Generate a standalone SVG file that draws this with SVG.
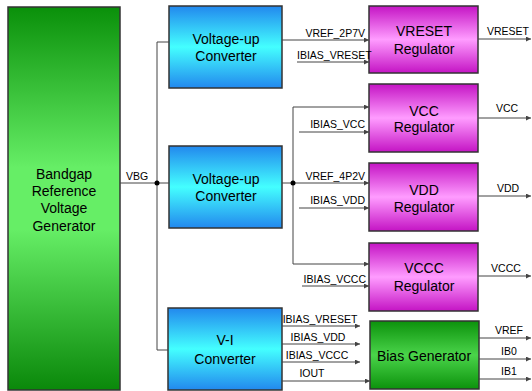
<svg xmlns="http://www.w3.org/2000/svg" width="532" height="391" viewBox="0 0 532 391">
<defs>
<linearGradient id="gBand" x1="0" y1="0" x2="0" y2="1">
<stop offset="0" stop-color="#0a900a"/><stop offset="0.42" stop-color="#66ee66"/><stop offset="0.58" stop-color="#66ee66"/><stop offset="1" stop-color="#0a880a"/>
</linearGradient>
<linearGradient id="gConv" x1="0" y1="0" x2="0" y2="1">
<stop offset="0" stop-color="#2288ee"/><stop offset="0.5" stop-color="#44ffff"/><stop offset="1" stop-color="#2288ee"/>
</linearGradient>
<linearGradient id="gReg" x1="0" y1="0" x2="0" y2="1">
<stop offset="0" stop-color="#c414c4"/><stop offset="0.5" stop-color="#ff9cff"/><stop offset="1" stop-color="#c414c4"/>
</linearGradient>
<linearGradient id="gBias" x1="0" y1="0" x2="0" y2="1">
<stop offset="0" stop-color="#0c920c"/><stop offset="0.5" stop-color="#4ad44a"/><stop offset="1" stop-color="#0c920c"/>
</linearGradient>
<marker id="arr" viewBox="0 0 6 6" refX="6" refY="3" markerWidth="5" markerHeight="5" markerUnits="userSpaceOnUse" orient="auto">
<path d="M0,0 L6,3 L0,6 z" fill="#444"/>
</marker>
</defs>
<style>
.box{stroke:#333;stroke-width:1.5}
.t{font-family:"Liberation Sans",Arial,sans-serif;font-size:14px;fill:#000;text-anchor:middle}
.l{font-family:"Liberation Sans",Arial,sans-serif;font-size:10.5px;fill:#000}
.w{fill:none;stroke:#444;stroke-width:1}
.a{marker-end:url(#arr)}
</style>
<g id="bandgap">
<rect class="box" x="8" y="7" width="112" height="383" fill="url(#gBand)"/>
<text class="t" x="64" y="179">Bandgap</text>
<text class="t" x="64" y="196">Reference</text>
<text class="t" x="64" y="213">Voltage</text>
<text class="t" x="64" y="231">Generator</text>
</g>
<g id="conv1">
<rect class="box" x="169" y="6" width="113" height="82" fill="url(#gConv)"/>
<text class="t" x="226" y="44">Voltage-up</text>
<text class="t" x="226" y="61">Converter</text>
</g>
<g id="conv2">
<rect class="box" x="169" y="146" width="113" height="82" fill="url(#gConv)"/>
<text class="t" x="226" y="184">Voltage-up</text>
<text class="t" x="226" y="201">Converter</text>
</g>
<g id="vi">
<rect class="box" x="168" y="308" width="114" height="82" fill="url(#gConv)"/>
<text class="t" x="225" y="345">V-I</text>
<text class="t" x="225" y="364">Converter</text>
</g>
<g id="vreset">
<rect class="box" x="369" y="6" width="109" height="67" fill="url(#gReg)"/>
<text class="t" x="424" y="36">VRESET</text>
<text class="t" x="424" y="54">Regulator</text>
</g>
<g id="vcc">
<rect class="box" x="369" y="84" width="109" height="68" fill="url(#gReg)"/>
<text class="t" x="424" y="116">VCC</text>
<text class="t" x="424" y="132">Regulator</text>
</g>
<g id="vdd">
<rect class="box" x="369" y="163" width="109" height="68" fill="url(#gReg)"/>
<text class="t" x="424" y="195">VDD</text>
<text class="t" x="424" y="212">Regulator</text>
</g>
<g id="vccc">
<rect class="box" x="369" y="243" width="109" height="68" fill="url(#gReg)"/>
<text class="t" x="424" y="273">VCCC</text>
<text class="t" x="424" y="291">Regulator</text>
</g>
<g id="biasgen">
<rect class="box" x="370" y="321" width="109" height="68" fill="url(#gBias)"/>
<text class="t" x="424" y="361">Bias Generator</text>
</g>
<g id="connectors">
<path class="w" d="M120,183 H169"/>
<path class="w" d="M169,42 H157 V350 H168"/>
<circle cx="157" cy="183" r="2.5" fill="#000"/>
<path class="w a" d="M282,40 H369"/>
<path class="w a" d="M297,62 H369"/>
<path class="w a" d="M282,183 H369"/>
<path class="w a" d="M293,183 V107 H369"/>
<path class="w a" d="M293,183 V264 H369"/>
<circle cx="293" cy="183" r="2.5" fill="#000"/>
<path class="w a" d="M299,132 H369"/>
<path class="w a" d="M299,208 H369"/>
<path class="w a" d="M302,286 H369"/>
<path class="w a" d="M282,326 H360"/>
<path class="w a" d="M282,344 H360"/>
<path class="w a" d="M282,362 H360"/>
<path class="w a" d="M282,381 H370"/>
<path class="w a" d="M478,39 H531"/>
<path class="w a" d="M478,118 H531"/>
<path class="w a" d="M478,196 H531"/>
<path class="w a" d="M478,276 H531"/>
<path class="w a" d="M479,338 H531"/>
<path class="w a" d="M479,359 H531"/>
<path class="w a" d="M479,379 H531"/>
</g>
<g id="labels">
<text class="l" x="126" y="180">VBG</text>
<text class="l" x="365" y="37" text-anchor="end">VREF_2P7V</text>
<text class="l" x="297" y="59">IBIAS_VRESET</text>
<text class="l" x="365" y="128" text-anchor="end">IBIAS_VCC</text>
<text class="l" x="365" y="180" text-anchor="end">VREF_4P2V</text>
<text class="l" x="365" y="204" text-anchor="end">IBIAS_VDD</text>
<text class="l" x="366" y="283" text-anchor="end">IBIAS_VCCC</text>
<text class="l" x="320" y="323" text-anchor="middle">IBIAS_VRESET</text>
<text class="l" x="318" y="341" text-anchor="middle">IBIAS_VDD</text>
<text class="l" x="317" y="359" text-anchor="middle">IBIAS_VCCC</text>
<text class="l" x="312" y="377" text-anchor="middle">IOUT</text>
<text class="l" x="508" y="35" text-anchor="middle">VRESET</text>
<text class="l" x="507" y="112" text-anchor="middle">VCC</text>
<text class="l" x="508" y="192" text-anchor="middle">VDD</text>
<text class="l" x="506" y="272" text-anchor="middle">VCCC</text>
<text class="l" x="509" y="334" text-anchor="middle">VREF</text>
<text class="l" x="509" y="355" text-anchor="middle">IB0</text>
<text class="l" x="509" y="375" text-anchor="middle">IB1</text>
</g>
</svg>
